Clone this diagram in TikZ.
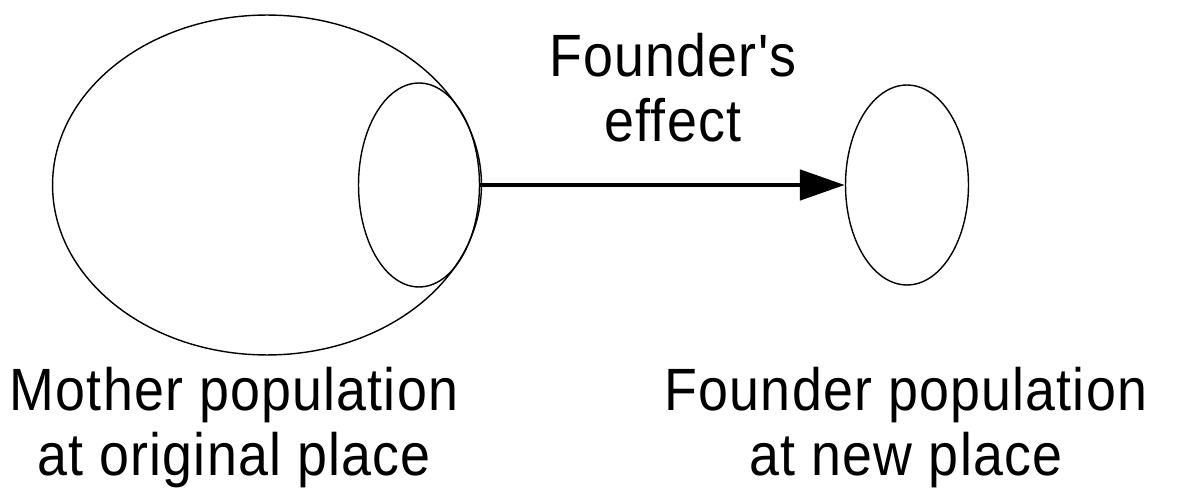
\documentclass[tikz,border=0pt]{standalone}
\usepackage{fontspec}
\newfontfamily\labelfont[FakeStretch=0.9,LetterSpace=2]{Liberation Sans}
\usetikzlibrary{shapes.geometric,arrows.meta}
\begin{document}
\begin{tikzpicture}[x=0.02cm,y=-0.02cm,
  pop/.style={draw,ellipse,line width=0.8pt,inner sep=0pt},
  lbl/.style={align=center,font=\labelfont\fontsize{34}{37}\selectfont}]
\useasboundingbox (0,0) rectangle (1184,496);
% populations
\node[pop,minimum width=8.58cm,minimum height=6.8cm](mother)at(267,185){};
\node[pop,minimum width=2.42cm,minimum height=4.08cm](sub)at(419,185){};
\node[pop,minimum width=2.46cm,minimum height=4cm](founder)at(907,185){};
\draw[line width=2.8pt,-{Triangle[length=0.9cm,width=0.6cm]}] (sub.east) -- (founder.west);
% labels
\node[lbl](effect)at(673,88){Founder's\\effect};
\node[lbl](motherlbl)at(234,428){Mother population\\at original place};
\node[lbl](founderlbl)at(906,428){Founder population\\at new place};
\end{tikzpicture}
\end{document}
